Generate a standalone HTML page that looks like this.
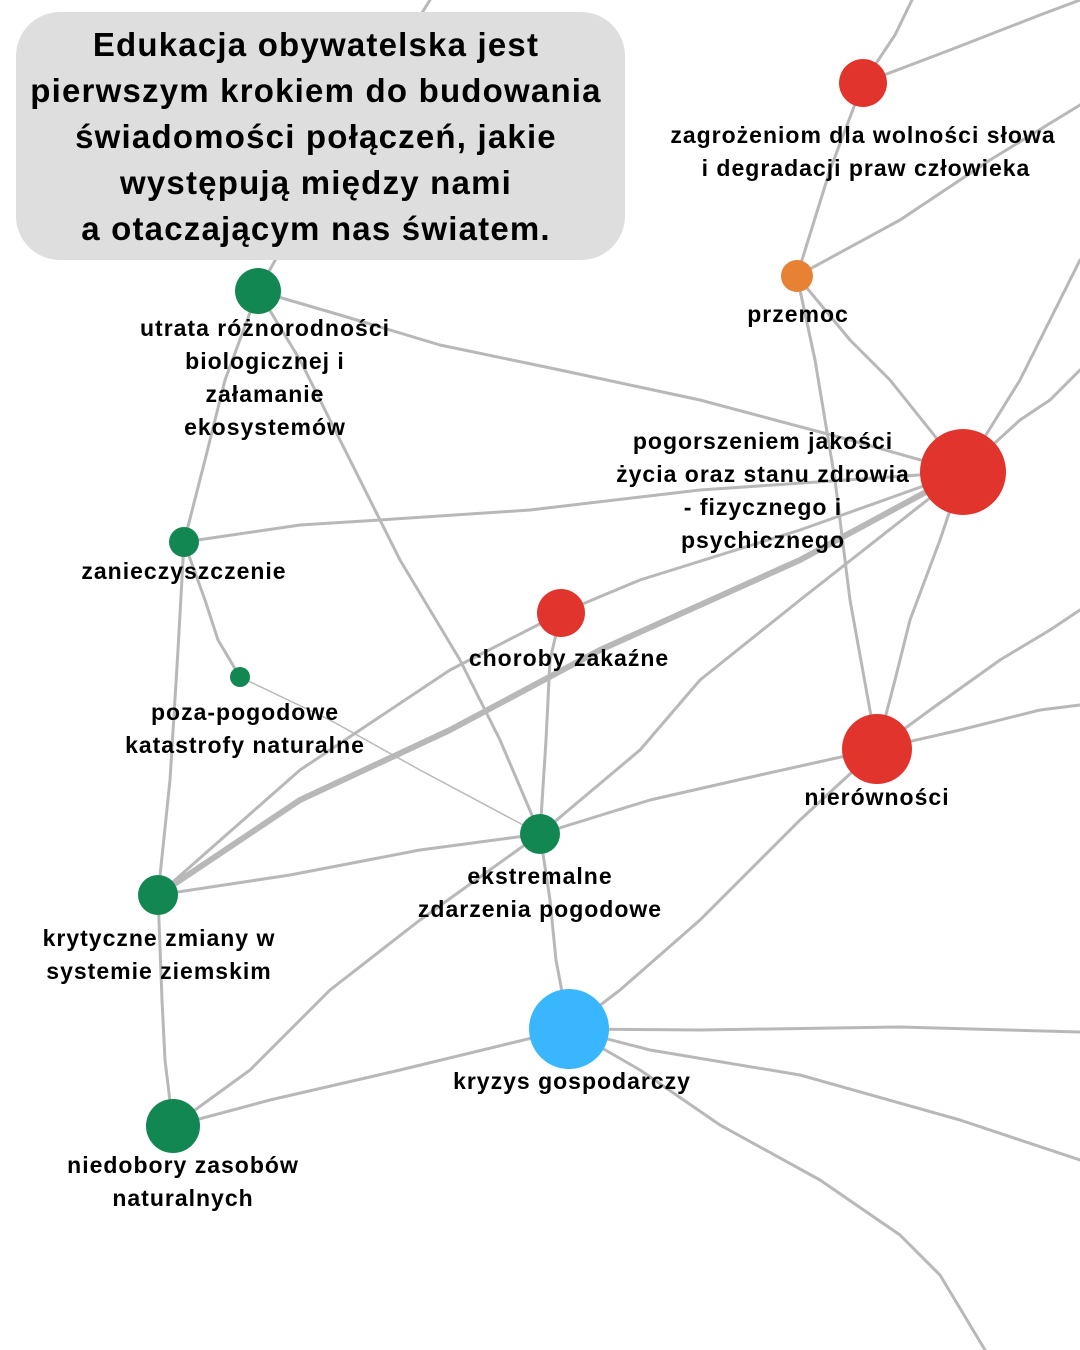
<!DOCTYPE html>
<html><head><meta charset="utf-8"><style>
body{margin:0;background:#fff;}
svg{display:block;}
text{font-family:"Liberation Sans",sans-serif;font-weight:bold;fill:#000;}
</style></head><body>
<svg width="1080" height="1350" viewBox="0 0 1080 1350" xmlns="http://www.w3.org/2000/svg">
<g fill="none" stroke="#b8b8b8" stroke-width="3" stroke-linejoin="round" stroke-linecap="round">
<polyline points="258,291 320,180 380,80 430,0"/>
<polyline points="258,291 225,380 205,460 184,542"/>
<polyline points="258,291 340,315 440,345 560,370 700,400 850,440 963,472"/>
<polyline points="258,291 300,360 340,440 400,560 460,660 500,740 540,834"/>
<polyline points="184,542 300,525 380,520 530,510 700,490 963,472"/>
<polyline points="184,542 205,600 218,640 240,677"/>
<polyline points="184,542 178,650 170,780 158,895"/>
<polyline points="240,677 330,720 420,770 540,834" stroke-width="1.5"/>
<polyline points="158,895 300,770 450,670 561,613"/>
<polyline points="158,895 290,875 420,850 540,834"/>
<polyline points="158,895 162,1000 165,1060 173,1126"/>
<polyline points="173,1126 250,1070 330,990 420,920 540,834"/>
<polyline points="173,1126 270,1100 400,1070 569,1029"/>
<polyline points="540,834 546,740 550,660 561,613"/>
<polyline points="540,834 640,750 700,680 800,600 963,472"/>
<polyline points="540,834 650,800 760,775 877,749"/>
<polyline points="540,834 550,900 556,960 569,1029"/>
<polyline points="561,613 640,580 800,530 963,472"/>
<polyline points="569,1029 620,990 700,920 800,820 877,749"/>
<polyline points="569,1029 700,1030 900,1027 1080,1032"/>
<polyline points="569,1029 650,1050 800,1075 960,1120 1080,1160"/>
<polyline points="569,1029 640,1070 720,1125 820,1180 900,1235 940,1275 985,1350"/>
<polyline points="877,749 930,710 1000,660 1050,630 1080,610"/>
<polyline points="877,749 960,730 1040,710 1080,705"/>
<polyline points="877,749 895,680 910,620 940,540 963,472"/>
<polyline points="963,472 930,430 890,380 850,340 797,276"/>
<polyline points="797,276 815,360 835,480 850,600 877,749"/>
<polyline points="963,472 1020,380 1050,320 1080,260"/>
<polyline points="963,472 1020,420 1050,400 1080,370"/>
<polyline points="797,276 900,220 990,160 1080,105"/>
<polyline points="797,276 830,170 863,83"/>
<polyline points="863,83 895,35 912,0"/>
<polyline points="863,83 950,50 1040,15 1080,0"/>
<polyline points="158,895 300,800 450,730 600,650 800,560 963,472" stroke-width="6"/>
</g>
<rect x="16" y="12" width="609" height="248" rx="44" fill="#dedede"/>
<g text-anchor="middle" font-size="33" letter-spacing="1.2">
<text x="316" y="56">Edukacja obywatelska jest</text>
<text x="316" y="102">pierwszym krokiem do budowania</text>
<text x="316" y="148">świadomości połączeń, jakie</text>
<text x="316" y="194">występują między nami</text>
<text x="316" y="240">a otaczającym nas światem.</text>
</g>
<g>
<circle cx="258" cy="291" r="23" fill="#138752"/>
<circle cx="184" cy="542" r="15" fill="#138752"/>
<circle cx="240" cy="677" r="10" fill="#138752"/>
<circle cx="158" cy="895" r="20" fill="#138752"/>
<circle cx="173" cy="1126" r="27" fill="#138752"/>
<circle cx="540" cy="834" r="20" fill="#138752"/>
<circle cx="561" cy="613" r="24" fill="#e1342d"/>
<circle cx="963" cy="472" r="43" fill="#e1342d"/>
<circle cx="877" cy="749" r="35" fill="#e1342d"/>
<circle cx="863" cy="83" r="24" fill="#e1342d"/>
<circle cx="797" cy="276" r="16" fill="#e78235"/>
<circle cx="569" cy="1029" r="40" fill="#39b6fe"/>
</g>
<g text-anchor="middle" font-size="23" letter-spacing="1">
<text x="265" y="336">utrata różnorodności</text>
<text x="265" y="369">biologicznej i</text>
<text x="265" y="402">załamanie</text>
<text x="265" y="435">ekosystemów</text>
<text x="184" y="579">zanieczyszczenie</text>
<text x="245" y="720">poza-pogodowe</text>
<text x="245" y="753">katastrofy naturalne</text>
<text x="159" y="946">krytyczne zmiany w</text>
<text x="159" y="979">systemie ziemskim</text>
<text x="183" y="1173">niedobory zasobów</text>
<text x="183" y="1206">naturalnych</text>
<text x="540" y="884">ekstremalne</text>
<text x="540" y="917">zdarzenia pogodowe</text>
<text x="569" y="666">choroby zakaźne</text>
<text x="572" y="1089">kryzys gospodarczy</text>
<text x="877" y="805">nierówności</text>
<text x="763" y="449">pogorszeniem jakości</text>
<text x="763" y="482">życia oraz stanu zdrowia</text>
<text x="763" y="515">- fizycznego i</text>
<text x="763" y="548">psychicznego</text>
<text x="798" y="322">przemoc</text>
<text x="863" y="143">zagrożeniom dla wolności słowa</text>
<text x="866" y="176">i degradacji praw człowieka</text>
</g>
</svg>
</body></html>
